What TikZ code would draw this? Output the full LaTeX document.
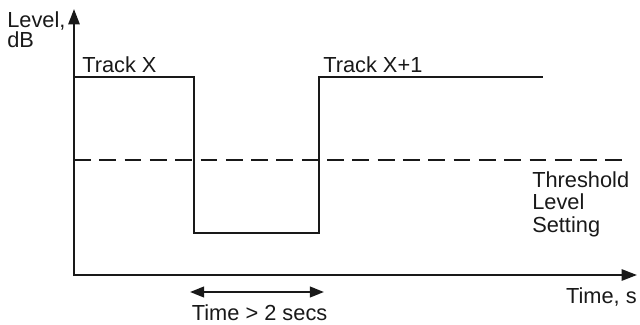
\documentclass[tikz,border=0pt]{standalone}
\usepackage{fontspec}
\setmainfont{Liberation Sans}
\usetikzlibrary{arrows.meta, positioning}
\definecolor{lineBlack}{gray}{0.1}

\begin{document}
\begin{tikzpicture}[
    font=\fontsize{15.5}{15.5}\selectfont,
    axis/.style={-{Triangle[length=11pt, width=8pt]}, line width=1.6pt, lineBlack},
    level/.style={line width=1.6pt, lineBlack, line join=miter},
    lbl/.style={inner sep=0pt, text=lineBlack}
]
    \useasboundingbox (-1.85,-1.225) rectangle (14.15,6.875);

    % Axes
    \coordinate (origin) at (0,0);
    \coordinate (xEnd) at (14.075,0);
    \coordinate (yEnd) at (0,6.65);
    \draw[axis] ([yshift=-0.8pt]origin) -- (yEnd);
    \draw[axis] (origin) -- (xEnd);

    % Track levels
    \coordinate (trackStart) at (0,4.95);
    \coordinate (dropTop) at (3,4.95);
    \coordinate (dropBottom) at (3,1.05);
    \coordinate (riseBottom) at (6.125,1.05);
    \coordinate (riseTop) at (6.125,4.95);
    \coordinate (trackEnd) at (11.725,4.95);
    \draw[level] (trackStart) -- (dropTop) -- (dropBottom) -- (riseBottom) -- (riseTop) -- (trackEnd);

    % Threshold line
    \coordinate (threshStart) at (0,2.875);
    \coordinate (threshEnd) at (13.9,2.875);
    \draw[level, dash pattern=on 12pt off 6pt] (threshStart) -- (threshEnd);

    % Gap arrow
    \coordinate (gapLeft) at (2.9,-0.425);
    \coordinate (gapRight) at (6.25,-0.425);
    \draw[level, {Triangle[length=10pt, width=7.5pt]}-{Triangle[length=10pt, width=7.5pt]}] (gapLeft) -- (gapRight);

    % Labels
    \node[lbl, anchor=base west, align=left, font=\fontsize{15.5}{12}\selectfont] (yLabel) at (-1.675,5.7) {Level,\\dB};
    \node[lbl, anchor=base east] (xLabel) at (14.075,-0.7) {Time, s};
    \node[lbl, anchor=base west] (trackX) at (0.2,5.075) {Track X};
    \node[lbl, anchor=base west] (trackNext) at (6.225,5.075) {Track X+1};
    \node[lbl, anchor=base west, align=left, font=\fontsize{15.5}{16}\selectfont] (threshLabel) at (11.45,1.075) {Threshold\\Level\\Setting};
    \node[lbl, anchor=base] (gapLabel) at (4.64,-1.125) {Time > 2 secs};
\end{tikzpicture}
\end{document}
